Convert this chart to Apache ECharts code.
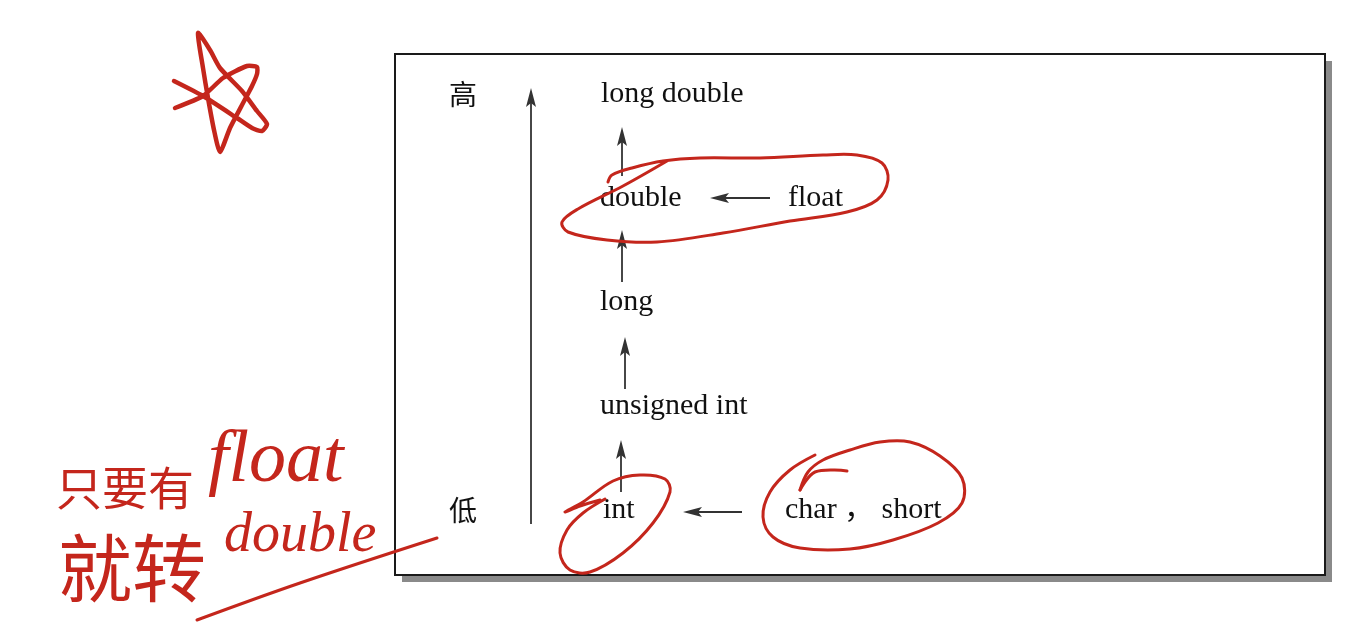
<!DOCTYPE html>
<html lang="zh">
<head>
    <meta charset="utf-8">
    <title>类型转换</title>
    <script src="https://cdn.jsdelivr.net/npm/echarts@6/dist/echarts.min.js"></script>
    <style>
        html, body { margin: 0; padding: 0; background: #fff; }
        #chart { width: 1356px; height: 622px; }
    </style>
</head>
<body>
<div id="chart"></div>
<script>
    // type nodes (x = left edge of the label, y = middle)
    var nodeNames = ['long double', 'double', 'float', 'long', 'unsigned int', 'int', 'char ， short'];
    var nodeX = [601, 600, 788, 600, 600, 603, 785];
    var nodeY = [94, 198, 198, 302, 406, 510, 510];

    var rankNames = ['高', '低'];
    var rankX = [449, 449];
    var rankY = [94, 510];

    // arrows: [fromX, fromY, toX, toY]
    var arrows = [
        [531, 524, 531, 88],
        [622, 176, 622, 127],
        [622, 282, 622, 230],
        [625, 389, 625, 337],
        [621, 492, 621, 440],
        [770, 198, 710, 198],
        [742, 512, 683, 512]
    ];

    // frame of the figure
    var frame = [[395, 54, 1325, 575]];

    // red pen strokes
    var strokes = [
        // star
        [[175,108],[203,96],[223,78],[247,66],[257,67],[257,74],[252,86],[242,105],[230,128],[220,152],
         [214,130],[208,98],[203,68],[198,33],[210,50],[220,68],[242,91],[257,111],[267,124],[262,131],
         [252,128],[237,118],[203,96],[174,81]],
        // around double / float
        [[608,182],[612,175],[632,168],[663,161],[700,158],[760,158],[823,155],[857,155],[882,163],[888,180],
         [877,200],[847,212],[790,221],[723,233],[657,242],[607,240],[568,232],[562,222],[578,209],[623,186],[667,161]],
        // around int
        [[600,500],[580,506],[565,512],[583,502],[613,481],[640,475],[665,479],[670,492],[653,523],[623,553],
         [590,572],[570,570],[560,553],[567,530],[583,513],[605,499]],
        // around char , short
        [[800,490],[808,472],[823,460],[850,450],[880,442],[910,442],[940,456],[962,478],[962,503],[938,523],
         [893,540],[850,549],[800,548],[773,537],[763,517],[770,492],[790,470],[815,455]],
        [[800,490],[815,472],[847,471]],
        // underline
        [[197,620],[300,583],[437,538]]
    ];

    var noteTexts = ['只要有', 'float', '就转', 'double'];
    var noteX = [56, 208, 58, 224];
    var noteY = [488, 462, 568, 536];

    var ink = '#111';
    var pen = '#c4261c';

    var chart = echarts.init(document.getElementById('chart'));

    chart.setOption({
        animation: false,
        backgroundColor: '#fff',
        grid: { left: 0, right: 0, top: 0, bottom: 0 },
        xAxis: { type: 'value', min: 0, max: 1356, show: false },
        yAxis: { type: 'value', min: 0, max: 622, inverse: true, show: false },
        series: [
            {
                // frame with drop shadow
                type: 'custom',
                data: frame,
                z: 1,
                renderItem: function (params, api) {
                    var a = api.coord([api.value(0), api.value(1)]);
                    var b = api.coord([api.value(2), api.value(3)]);
                    var w = b[0] - a[0], h = b[1] - a[1];
                    return {
                        type: 'group',
                        children: [
                            { type: 'rect', shape: { x: a[0] + 7, y: a[1] + 7, width: w, height: h },
                              style: { fill: '#8a8a8a' } },
                            { type: 'rect', shape: { x: a[0], y: a[1], width: w, height: h },
                              style: { fill: '#fff', stroke: '#1a1a1a', lineWidth: 2 } }
                        ]
                    };
                }
            },
            {
                // arrows
                type: 'custom',
                data: arrows,
                z: 3,
                renderItem: function (params, api) {
                    var s = api.coord([api.value(0), api.value(1)]);
                    var e = api.coord([api.value(2), api.value(3)]);
                    var dx = e[0] - s[0], dy = e[1] - s[1];
                    var len = Math.sqrt(dx * dx + dy * dy);
                    var ux = dx / len, uy = dy / len;
                    var hl = 19, hw = 5;
                    var bx = e[0] - ux * hl, by = e[1] - uy * hl;
                    return {
                        type: 'group',
                        children: [
                            { type: 'line', shape: { x1: s[0], y1: s[1], x2: bx + ux * 4, y2: by + uy * 4 },
                              style: { stroke: '#333', lineWidth: 1.8 } },
                            { type: 'polygon', shape: { points: [
                                    [e[0], e[1]],
                                    [bx - uy * hw, by + ux * hw],
                                    [bx + ux * 4, by + uy * 4],
                                    [bx + uy * hw, by - ux * hw]
                                ] },
                              style: { fill: '#333' } }
                        ]
                    };
                }
            },
            {
                // type names
                type: 'custom',
                data: nodeNames.map(function (n, i) { return [nodeX[i], nodeY[i]]; }),
                z: 4,
                renderItem: function (params, api) {
                    var p = api.coord([api.value(0), api.value(1)]);
                    return {
                        type: 'text',
                        x: p[0], y: p[1],
                        style: {
                            text: nodeNames[params.dataIndex],
                            fill: ink,
                            font: '30px "Liberation Serif", "Noto Sans CJK SC"',
                            align: 'left',
                            verticalAlign: 'middle'
                        }
                    };
                }
            },
            {
                // 高 / 低
                type: 'custom',
                data: rankNames.map(function (n, i) { return [rankX[i], rankY[i]]; }),
                z: 4,
                renderItem: function (params, api) {
                    var p = api.coord([api.value(0), api.value(1)]);
                    return {
                        type: 'text',
                        x: p[0], y: p[1],
                        style: {
                            text: rankNames[params.dataIndex],
                            fill: ink,
                            font: '28px "Noto Sans CJK SC"',
                            align: 'left',
                            verticalAlign: 'middle'
                        }
                    };
                }
            },
            {
                // red pen strokes
                type: 'custom',
                data: strokes.map(function (s) { return [s[0][0], s[0][1]]; }),
                z: 6,
                renderItem: function (params, api) {
                    var pts = strokes[params.dataIndex].map(function (q) { return api.coord(q); });
                    var star = params.dataIndex === 0;
                    return {
                        type: 'polyline',
                        shape: { points: pts, smooth: star ? 0.2 : 0.35 },
                        style: { stroke: pen, lineWidth: star ? 4.5 : 3, fill: null, lineCap: 'round', lineJoin: 'round' }
                    };
                }
            },
            {
                // handwritten note
                type: 'custom',
                data: noteTexts.map(function (n, i) { return [noteX[i], noteY[i]]; }),
                z: 6,
                renderItem: function (params, api) {
                    var p = api.coord([api.value(0), api.value(1)]);
                    var i = params.dataIndex;
                    var fonts = [
                        '46px "Noto Sans CJK SC"',
                        'italic 74px "Liberation Serif"',
                        '74px "Noto Sans CJK SC"',
                        'italic 56px "Liberation Serif"'
                    ];
                    return {
                        type: 'text',
                        x: p[0], y: p[1],
                        style: {
                            text: noteTexts[i],
                            fill: pen,
                            font: fonts[i],
                            align: 'left',
                            verticalAlign: 'middle'
                        }
                    };
                }
            }
        ]
    });
</script>
</body>
</html>
